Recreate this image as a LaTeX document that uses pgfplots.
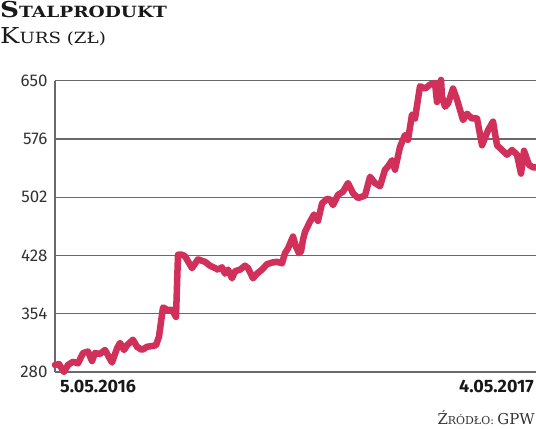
\documentclass[border=0pt]{standalone}
\usepackage{fontspec}
\setmainfont{Fira Sans}
\newfontfamily\slab{DejaVu Serif}
\usepackage{pgfplots}
\pgfplotsset{compat=1.18}
\definecolor{linec}{RGB}{208,48,90}
\definecolor{gridc}{RGB}{105,105,105}
\begin{document}
\begin{tikzpicture}[x=1bp,y=1bp]
\path[use as bounding box] (0,0) rectangle (536,428);
\begin{axis}[at={(55bp,56bp)}, anchor=south west,
  width=481bp, height=291.3bp, scale only axis,
  xmin=55, xmax=536, ymin=280, ymax=650,
  axis x line=bottom, axis y line=left,
  axis line style={-, gridc, line width=1.5bp},
  xtick=\empty, ytick={280,354,428,502,576,650},
  ymajorgrids, grid style={gridc, line width=1.2bp},
  major tick length=0pt,
  yticklabel style={font=\fontsize{17}{17}\selectfont, text=black!80, xshift=-4bp},
  /pgf/number format/assume math mode=true,
  clip=false]
\addplot[linec, line width=6.5bp, line join=round, line cap=round] coordinates {
(55,289) (59,290) (64,280) (68,289) (73,293) (78,291) (83,304) (88,306) (92,294)
(95,304) (100,303) (105,308) (112,292) (117,310) (120,317) (124,308) (127,314)
(133,321) (137,312) (142,308) (147,312) (152,313) (156,314) (159,325) (163,362)
(167,359) (172,359) (176,350) (178,429) (182,429) (185,427) (192,412) (198,423)
(205,420) (210,415) (215,412) (218,410) (222,413) (225,405) (228,410) (232,399)
(235,408) (240,410) (245,415) (248,412) (253,399) (257,405) (262,410) (267,417)
(272,419) (277,420) (282,418) (285,431) (288,437) (293,452) (296,439) (299,431)
(301,433) (303,448) (305,458) (310,471) (314,480) (318,472) (322,494) (327,500)
(330,499) (333,492) (338,505) (343,509) (348,520) (353,507) (358,501) (365,504)
(370,528) (375,520) (380,516) (385,537) (388,541) (392,549) (395,537) (400,566)
(405,581) (408,575) (412,607) (415,602) (420,643) (425,640) (430,645) (435,647)
(437,623) (441,651) (442,630) (445,617) (448,621) (453,640) (457,626) (463,600)
(467,608) (472,602) (477,602) (482,568) (488,587) (493,598) (497,568) (502,562)
(507,556) (512,562) (517,556) (521,532) (524,561) (529,543) (533,540) (536,540)
};
\end{axis}
\node[anchor=base west, inner sep=0pt, text=black!90] at (0,410)
  {\scalebox{1.2}[1]{\slab\bfseries\fontsize{22}{22}\selectfont S\fontsize{15.5}{15}\selectfont TALPRODUKT}};
\node[anchor=base west, inner sep=0pt, text=black!90] at (0,385)
  {\scalebox{1.18}[1]{\slab\fontsize{22}{22}\selectfont K\fontsize{15.5}{15}\selectfont URS (ZŁ)}};
\node[anchor=base west, inner sep=0pt, text=black!90] at (60,36)
  {\bfseries\fontsize{18}{18}\selectfont 5.05.2016};
\node[anchor=base east, inner sep=0pt, text=black!90] at (534,36)
  {\bfseries\fontsize{18}{18}\selectfont 4.05.2017};
\node[anchor=base east, inner sep=0pt, text=black!80] at (535,4)
  {\slab\fontsize{15}{15}\selectfont Ź\fontsize{11}{11}\selectfont RÓDŁO: \fontsize{15}{15}\selectfont GPW};
\end{tikzpicture}
\end{document}
